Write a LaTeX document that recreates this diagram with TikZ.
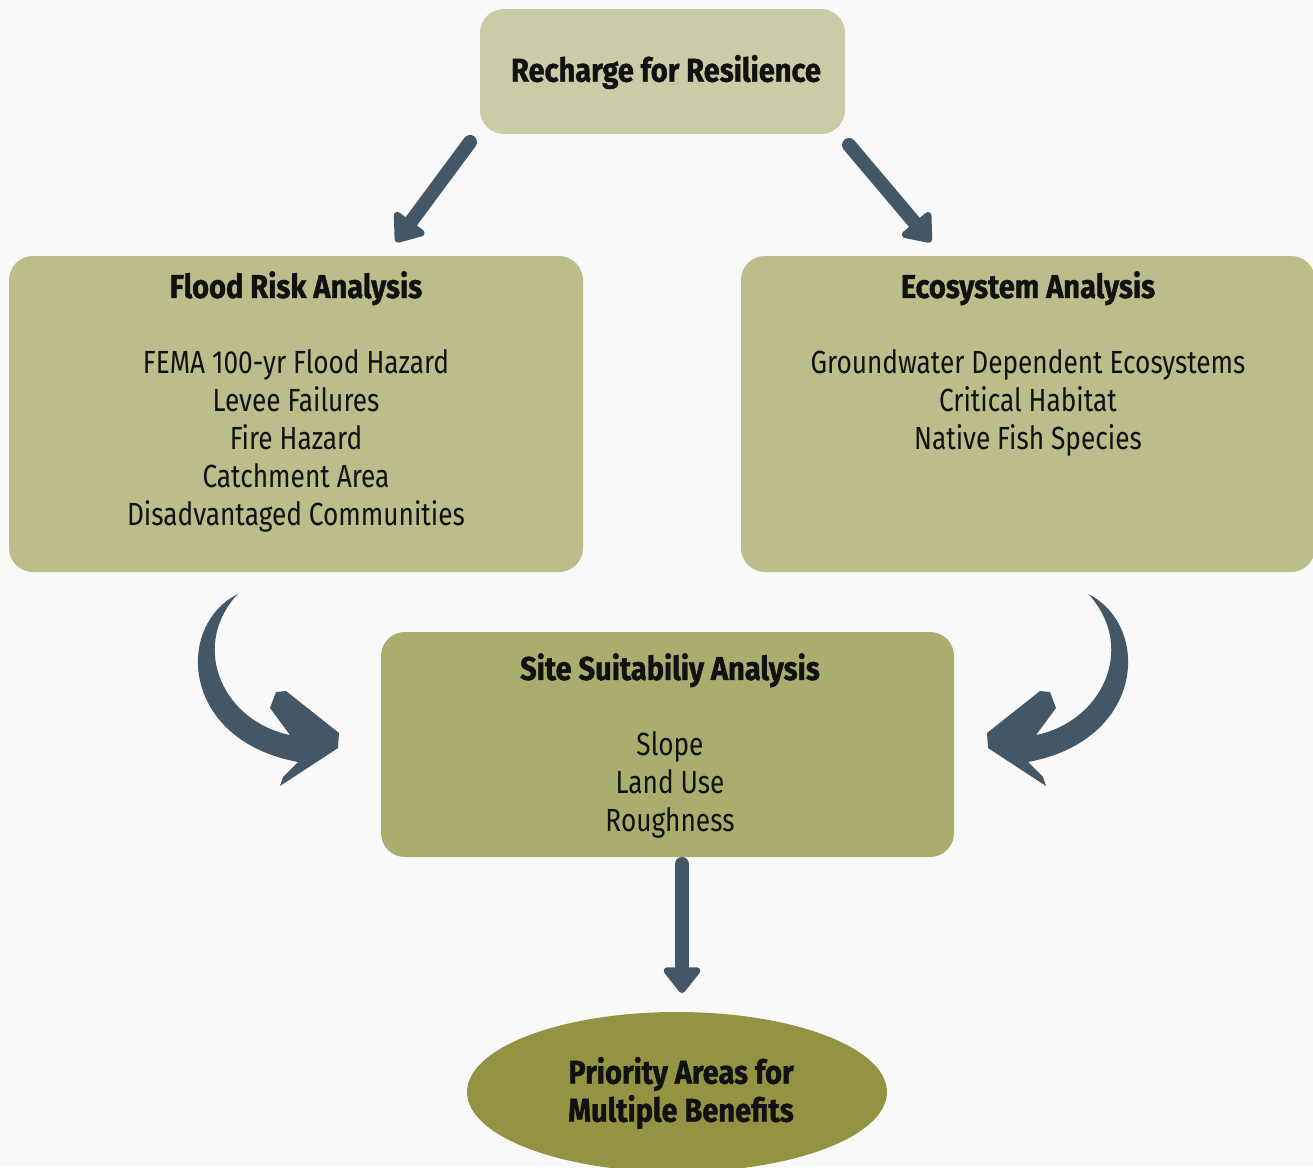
\documentclass[tikz,border=0pt]{standalone}
\usepackage{fontspec}
\setmainfont{Fira Sans}[FakeStretch=0.82, BoldFeatures={FakeStretch=0.88, FakeBold=1.2}]
\usetikzlibrary{arrows.meta,shapes.geometric}
\definecolor{bgc}{HTML}{F9F9F9}
\definecolor{topc}{HTML}{CBCBA5}
\definecolor{midc}{HTML}{BDBD8B}
\definecolor{sitec}{HTML}{ABAD6E}
\definecolor{ellc}{HTML}{939343}
\definecolor{arrowc}{HTML}{435767}
\definecolor{txtc}{HTML}{111111}
\tikzset{
  box/.style={rounded corners=24pt, inner sep=0pt},
  bodytext/.style={align=center, text=txtc, font=\fontsize{32}{38}\selectfont},
  titletext/.style={align=center, text=txtc, font=\bfseries\fontsize{33}{38}\selectfont},
  bigarrow/.style={draw=arrowc, line width=14pt, line cap=round,
    -{Triangle[length=28pt,width=42pt,round]}},
}
\newcommand{\curvedarrowshape}{%
  (238,594) .. controls (175,625) and (180,740) .. (298,762)
  -- (283,777) -- (280,786) -- (338,748) -- (339,733) -- (286,691) -- (276,692) -- (270,708) -- (290,735)
  .. controls (225,722) and (190,650) .. (235,597) -- cycle}
\begin{document}
\begin{tikzpicture}[x=1pt,y=-1pt]
\useasboundingbox (0,0) rectangle (1313,1167);
\fill[bgc] (0,0) rectangle (1313,1167);

\node[box, fill=topc, minimum width=365pt, minimum height=125pt] (top) at (662.5,71.5) {};
\node[titletext] (toptxt) at (666,72) {Recharge for Resilience};

\node[box, fill=midc, minimum width=574pt, minimum height=316pt] (flood) at (296,414) {};
\node[bodytext] (floodtxt) at (296,402) {\textbf{\fontsize{33}{38}\selectfont Flood Risk Analysis}\\[38pt]
  FEMA 100-yr Flood Hazard\\ Levee Failures\\ Fire Hazard\\ Catchment Area\\ Disadvantaged Communities};

\node[box, fill=midc, minimum width=574pt, minimum height=316pt] (eco) at (1028,414) {};
\node[bodytext] (ecotxt) at (1028,364) {\textbf{\fontsize{33}{38}\selectfont Ecosystem Analysis}\\[38pt]
  Groundwater Dependent Ecosystems\\ Critical Habitat\\ Native Fish Species};

\node[box, fill=sitec, minimum width=573pt, minimum height=225pt] (site) at (667.5,744.5) {};
\node[bodytext] (sitetxt) at (670,746) {\textbf{\fontsize{33}{38}\selectfont Site Suitabiliy Analysis}\\[38pt]
  Slope\\ Land Use\\ Roughness};

\node[ellipse, fill=ellc, minimum width=420pt, minimum height=160pt, inner sep=0pt] (prio) at (677,1092) {};
\node[titletext] (priotxt) at (681,1093) {Priority Areas for\\ Multiple Benefits};

\coordinate (a1s) at (470,142);
\coordinate (a1e) at (396,242);
\coordinate (a2s) at (849,145);
\coordinate (a2e) at (931,242);
\coordinate (a3s) at (682,864);
\coordinate (a3e) at (682,993);
\draw[bigarrow] (a1s) -- (a1e);
\draw[bigarrow] (a2s) -- (a2e);
\draw[bigarrow] (a3s) -- (a3e);

\fill[arrowc] \curvedarrowshape;
\begin{scope}[shift={(1326,0)}, xscale=-1]
\fill[arrowc] \curvedarrowshape;
\end{scope}
\end{tikzpicture}
\end{document}
